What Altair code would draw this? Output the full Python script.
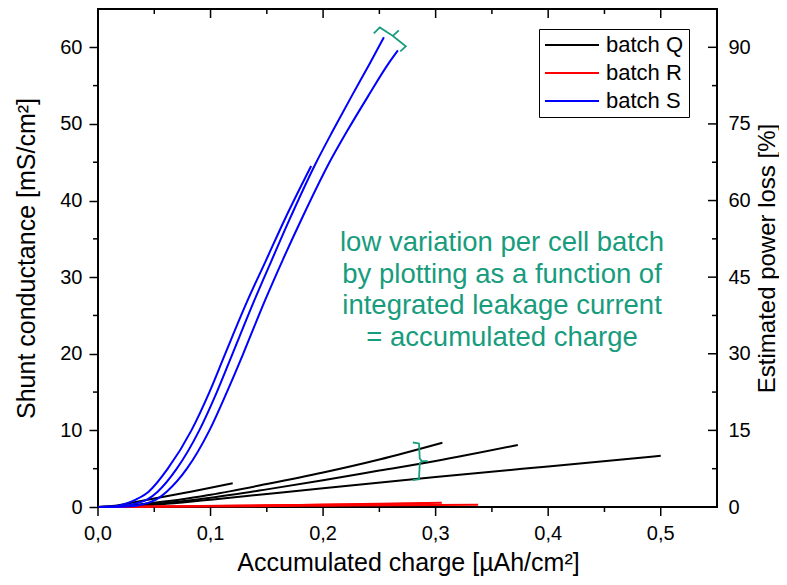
import altair as alt
import pandas as pd

# ---------------- data ----------------
# batch Q (black)
q1_x = [0, 0.015, 0.03, 0.05, 0.075, 0.10, 0.1197]
q1_y = [0, 0.15, 0.55, 1.1, 1.8, 2.5, 3.09]
q2_x = [0, 0.02, 0.05, 0.075, 0.10, 0.15, 0.20, 0.25, 0.306]
q2_y = [0, 0.1, 0.55, 1.0, 1.6, 3.0, 4.5, 6.2, 8.39]
q3_x = [0, 0.02, 0.05, 0.075, 0.10, 0.15, 0.20, 0.25, 0.30, 0.373]
q3_y = [0, 0.06, 0.4, 0.75, 1.2, 2.3, 3.5, 4.75, 6.0, 8.09]
q4_x = [0, 0.02, 0.05, 0.075, 0.10, 0.15, 0.20, 0.30, 0.40, 0.50]
q4_y = [0, 0.05, 0.3, 0.6, 0.95, 1.7, 2.45, 3.9, 5.3, 6.69]
# batch R (red)
r1_x = [0, 0.03, 0.08, 0.15, 0.22, 0.28, 0.3055]
r1_y = [0, 0.02, 0.1, 0.22, 0.35, 0.48, 0.56]
r2_x = [0, 0.03, 0.10, 0.20, 0.30, 0.3378]
r2_y = [0, 0.02, 0.08, 0.16, 0.25, 0.30]
r3_x = [0, 0.04, 0.10, 0.20, 0.29]
r3_y = [0, 0.03, 0.12, 0.28, 0.45]
# batch S (blue)
s1_x = [0, 0.013, 0.024, 0.034, 0.045, 0.062, 0.083, 0.099, 0.113, 0.133, 0.1493, 0.1655, 0.1894]
s1_y = [0, 0.05, 0.4, 1, 2, 5, 10, 15, 20, 27, 32.2, 37.4, 44.5]
s2_x = [0, 0.02, 0.032, 0.044, 0.053, 0.070, 0.090, 0.1056, 0.1195, 0.139, 0.1543, 0.1698,
        0.1933, 0.2090, 0.2249, 0.2415, 0.2540]
s2_y = [0, 0.05, 0.4, 1, 2, 5, 10, 15, 20, 27, 32.2, 37.4, 44.8, 49.2, 53.5, 57.9, 61.3]
s3_x = [0, 0.026, 0.041, 0.052, 0.061, 0.079, 0.099, 0.1145, 0.129, 0.1485, 0.164, 0.1803,
        0.2050, 0.2219, 0.2395, 0.2582, 0.2665]
s3_y = [0, 0.05, 0.4, 1, 2, 5, 10, 15, 20, 27, 32.2, 37.4, 44.8, 49.2, 53.5, 57.9, 59.6]

batches = ["batch Q", "batch R", "batch S"]
batch_colors = ["#000000", "#ff0000", "#0000ff"]

# annotation text
note_lines = ["low variation per cell batch", "by plotting as a function of",
              "integrated leakage current", "= accumulated charge"]
note_x = [0.359]
note_y = [33.4]

# curly-brace annotations (data coordinates)
brace_top_x = [0.2451, 0.2504, 0.2620, 0.2673, 0.2620, 0.2735, 0.2686]
brace_top_y = [61.81, 62.60, 61.49, 62.21, 61.49, 60.12, 59.46]
brace_right_x = [0.2797, 0.2852, 0.2859, 0.2878, 0.2930, 0.2878, 0.2859, 0.2852, 0.2797]
brace_right_y = [8.42, 8.30, 6.30, 6.00, 6.00, 6.00, 5.70, 3.62, 3.52]

# axis ticks and labels
x_major = [0, 0.1, 0.2, 0.3, 0.4, 0.5]
x_labels = ["0,0", "0,1", "0,2", "0,3", "0,4", "0,5"]
x_minor = [0.05, 0.15, 0.25, 0.35, 0.45]
y_major = [0, 10, 20, 30, 40, 50, 60]
y_minor = [5, 15, 25, 35, 45, 55]
power_per_conductance = 1.5   # right axis: 0..90 % for 0..60 mS/cm²
x_title = "Accumulated charge [µAh/cm²]"
y_title = "Shunt conductance [mS/cm²]"
y2_title = "Estimated power loss [%]"

# ---------------- build tables ----------------
curves = [
    ("batch Q", "Q1", q1_x, q1_y), ("batch Q", "Q2", q2_x, q2_y),
    ("batch Q", "Q3", q3_x, q3_y), ("batch Q", "Q4", q4_x, q4_y),
    ("batch R", "R1", r1_x, r1_y), ("batch R", "R2", r2_x, r2_y),
    ("batch R", "R3", r3_x, r3_y),
    ("batch S", "S1", s1_x, s1_y), ("batch S", "S2", s2_x, s2_y),
    ("batch S", "S3", s3_x, s3_y),
]
rows = []
for b, cid, xs, ys in curves:
    for i, (xv, yv) in enumerate(zip(xs, ys)):
        rows.append({"batch": b, "curve": cid, "x": xv, "y": yv, "i": i})
df = pd.DataFrame(rows)

brows = []
for bid, xs, ys in [("top", brace_top_x, brace_top_y), ("right", brace_right_x, brace_right_y)]:
    for i, (xv, yv) in enumerate(zip(xs, ys)):
        brows.append({"brace": bid, "x": xv, "y": yv, "i": i})
braces_df = pd.DataFrame(brows)

notes_df = pd.DataFrame({"text": ["\n".join(note_lines)], "x": note_x, "y": note_y})
xlab_df = pd.DataFrame({"t": x_major, "label": x_labels})
xtitle_df = pd.DataFrame({"title": [x_title]})

FONT = "Liberation Sans"
GREEN = "#179C7D"
W, H = 619, 498

x_scale = alt.Scale(domain=[0, 0.55], nice=False, zero=False)
y_scale = alt.Scale(domain=[0, 65], nice=False)

axis_style = dict(
    labelFont=FONT, labelFontSize=20, labelColor="black",
    titleFont=FONT, titleFontWeight="normal", titleColor="black",
    tickColor="black", tickWidth=1.5, grid=False, domain=False,
)

y_axis = alt.Axis(
    orient="left",
    values=y_major,
    title=y_title,
    tickSize=9, labelPadding=7,
    titleFontSize=25, titleBaseline="alphabetic", titleX=-64,
    **axis_style,
)
right_axis = alt.Axis(
    orient="right",
    values=y_major,
    labelExpr="format(datum.value * %s, 'd')" % power_per_conductance,
    title=y2_title,
    ticks=False, labelPadding=11,
    titleFontSize=24, titleAngle=270, titleBaseline="alphabetic", titleX=57,
    **axis_style,
)

lines = alt.Chart(df).mark_line(strokeWidth=2, interpolate="monotone").encode(
    x=alt.X("x:Q", scale=x_scale, axis=None),
    y=alt.Y("y:Q", scale=y_scale, axis=y_axis),
    color=alt.Color(
        "batch:N",
        scale=alt.Scale(domain=batches, range=batch_colors),
        legend=alt.Legend(
            title=None, orient="none", legendX=441, legendY=20,
            symbolType="stroke", symbolSize=2916, symbolStrokeWidth=2,
            clipHeight=22, rowPadding=6, padding=5, labelOffset=6,
            labelFont=FONT, labelFontSize=22, labelColor="black", labelLimit=300,
            strokeColor="black", fillColor="white",
        ),
    ),
    detail="curve:N",
    order="i:Q",
)

braces = alt.Chart(braces_df).mark_line(color=GREEN, strokeWidth=1.8).encode(
    x=alt.X("x:Q", scale=x_scale, axis=None),
    y=alt.Y("y:Q", scale=y_scale, axis=None),
    detail="brace:N",
    order="i:Q",
)

notes = alt.Chart(notes_df).mark_text(
    align="center", baseline="alphabetic", font=FONT, fontSize=27.5,
    color=GREEN, lineBreak="\n", lineHeight=31.5
).encode(
    x=alt.X("x:Q", scale=x_scale, axis=None),
    y=alt.Y("y:Q", scale=y_scale, axis=None),
    text="text:N",
)

tick_mark = dict(color="black", strokeWidth=1.5)
top_major = alt.Chart(pd.DataFrame({"t": x_major})).mark_rule(**tick_mark).encode(
    x=alt.X("t:Q", scale=x_scale, axis=None), y=alt.value(0), y2=alt.value(9)
)
top_minor = alt.Chart(pd.DataFrame({"t": x_minor})).mark_rule(**tick_mark).encode(
    x=alt.X("t:Q", scale=x_scale, axis=None), y=alt.value(0), y2=alt.value(5)
)
bottom_major = alt.Chart(pd.DataFrame({"t": x_major})).mark_rule(**tick_mark).encode(
    x=alt.X("t:Q", scale=x_scale, axis=None), y=alt.value(H), y2=alt.value(H + 9)
)
bottom_minor = alt.Chart(pd.DataFrame({"t": x_minor})).mark_rule(**tick_mark).encode(
    x=alt.X("t:Q", scale=x_scale, axis=None), y=alt.value(H), y2=alt.value(H + 5)
)
bottom_labels = alt.Chart(xlab_df).mark_text(
    font=FONT, fontSize=20, color="black", align="center", baseline="alphabetic"
).encode(
    x=alt.X("t:Q", scale=x_scale, axis=None), y=alt.value(H + 33), text="label:N"
)
bottom_title = alt.Chart(xtitle_df).mark_text(
    font=FONT, fontSize=25, color="black", align="center", baseline="alphabetic"
).encode(
    x=alt.value(W / 2 + 1), y=alt.value(H + 64), text="title:N"
)
left_minor = alt.Chart(pd.DataFrame({"v": y_minor})).mark_rule(**tick_mark).encode(
    y=alt.Y("v:Q", scale=y_scale, axis=None), x=alt.value(-5), x2=alt.value(0)
)
right_major = alt.Chart(pd.DataFrame({"v": y_major})).mark_rule(**tick_mark).encode(
    y=alt.Y("v:Q", scale=y_scale, axis=right_axis), x=alt.value(W - 9), x2=alt.value(W)
)
right_minor = alt.Chart(pd.DataFrame({"v": y_minor})).mark_rule(**tick_mark).encode(
    y=alt.Y("v:Q", scale=y_scale, axis=None), x=alt.value(W - 5), x2=alt.value(W)
)

chart = alt.layer(
    lines, braces, notes, top_major, top_minor, bottom_major, bottom_minor,
    bottom_labels, bottom_title, left_minor, right_major, right_minor
).properties(
    width=W, height=H,
    padding={"left": 90, "top": 1, "right": 62, "bottom": 70},
    autosize=alt.AutoSizeParams(type="none"),
    background="white",
).configure_view(
    stroke="black", strokeWidth=2
)

chart.save("out.html", embed_options={"renderer": "svg", "actions": False})
